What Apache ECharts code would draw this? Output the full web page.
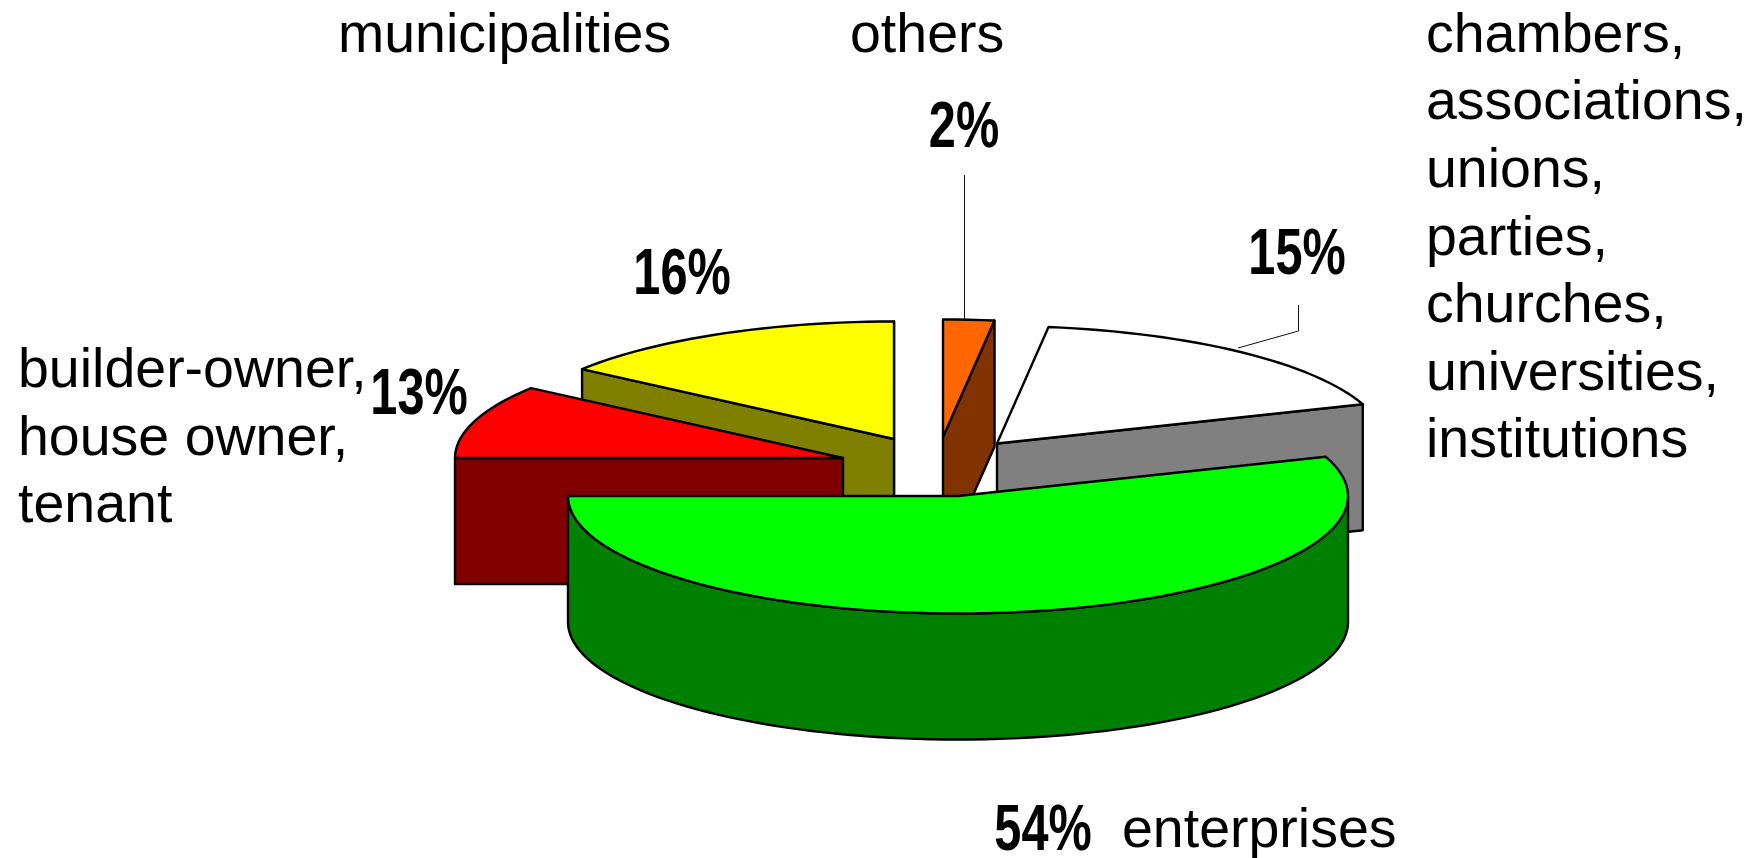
<!DOCTYPE html>
<html><head><meta charset="utf-8">
<style>html,body{margin:0;padding:0;background:#fff}#c{width:1756px;height:858px}</style>
<script src="https://cdn.jsdelivr.net/npm/echarts@6/dist/echarts.min.js"></script>
</head><body><div id="c"></div>
<script>
// Data, in paint order (back slices first, the exploded front slice last)
const categories = ['chambers,\nassociations,\nunions,\nparties,\nchurches,\nuniversities,\ninstitutions', 'others', 'municipalities', 'builder-owner,\nhouse owner,\ntenant', 'enterprises'];
const shares = [15, 2, 16, 13, 54];
const topColors = ['#FFFFFF', '#FF6600', '#FFFF00', '#FF0000', '#00FF00'];
const wallColors = ['#808080', '#803300', '#808000', '#800000', '#008000'];

// Layout (px)
const radiusX = [388, 388, 388, 388, 390];
const RY = 117.5, DEPTH = 126;
const apexX = [997, 943, 894, 843, 958];
const apexY = [443.5, 437, 439, 458, 496];
const nameX = [1426, 850, 338, 18, 1122];
const nameY = [36.5, 36.5, 36.5, 372, 831.5];
const pctX = [1297, 964, 682, 419, 1043];
const pctY = [256.5, 129, 276.5, 396.5, 832.5];
const leaderXY = [[[1298.5, 305], [1298.5, 331], [1238, 348]], [[964.5, 175], [964.5, 319]], null, null, null];
const FONT = '"Liberation Sans", Arial, sans-serif';
const NAME_SIZE = 55.5, LINE = 67.6, PCT_SIZE = 64, PCT_SQUEEZE = 0.76;

// The 3D view foreshortens the drawn sweep of each slice relative to its share.
const rad = d => d * Math.PI / 180;
function viewAngle(theta) {
  const t = rad(theta);
  return theta - 13.77 * Math.sin(t) + 0.85 * (1 - Math.cos(t));
}
const total = shares.reduce((a, b) => a + b, 0);
const startShare = shares[shares.length - 1];

function rim(rx, ax, ay, phi, dy) {
  const p = rad(phi);
  return [ax - rx * Math.cos(p), ay + RY * Math.sin(p) + (dy || 0)];
}
function arc(rx, ax, ay, a, b, dy) {
  const pts = [], n = Math.max(2, Math.ceil(Math.abs(b - a) / 2));
  for (let k = 0; k <= n; k++) pts.push(rim(rx, ax, ay, a + (b - a) * k / n, dy));
  return pts;
}
const STROKE = { stroke: '#000', lineWidth: 2.4, lineJoin: 'round' };

function renderItem(params, api) {
  const i = api.value(0), v = api.value(1);
  let before = startShare;
  for (let k = 0; k < i; k++) before += shares[k];
  let t0 = before / total * 360, t1 = (before + v) / total * 360;
  if (t0 >= 360) { t0 -= 360; t1 -= 360; }
  const a = viewAngle(t0), b = viewAngle(t1), mid = (a + b) / 2;
  const ax = apexX[i], ay = apexY[i], rx = radiusX[i];
  const children = [];
  const wallStyle = Object.assign({ fill: wallColors[i] }, STROKE);
  const M = rim(rx, 0, 0, mid);
  [a, b].forEach(phi => {
    const R = rim(rx, 0, 0, phi);
    if (Math.abs(R[0]) < 1e-6) return;
    const c = R[0] * M[1] - R[1] * M[0];
    if (c * R[0] < 0) {
      const E = rim(rx, ax, ay, phi);
      children.push({ type: 'polygon', silent: true, shape: { points: [[ax, ay], E, [E[0], E[1] + DEPTH], [ax, ay + DEPTH]] }, style: wallStyle });
    }
  });
  const wa = Math.max(a, 0), wb = Math.min(b, 180);
  if (wb > wa) {
    children.push({ type: 'polygon', silent: true, shape: { points: arc(rx, ax, ay, wa, wb, 0).concat(arc(rx, ax, ay, wb, wa, DEPTH)) }, style: wallStyle });
  }
  children.push({ type: 'polygon', silent: true, shape: { points: [[ax, ay]].concat(arc(rx, ax, ay, a, b, 0)) }, style: Object.assign({ fill: topColors[i] }, STROKE) });
  if (leaderXY[i]) {
    children.push({ type: 'polyline', silent: true, shape: { points: leaderXY[i] }, style: { stroke: '#111', lineWidth: 1, fill: 'none' } });
  }
  children.push({ type: 'text', silent: true, x: nameX[i], y: nameY[i] - LINE / 2, style: { text: categories[i], font: NAME_SIZE + 'px ' + FONT, lineHeight: LINE, fill: '#000', align: 'left', verticalAlign: 'top' } });
  children.push({ type: 'text', silent: true, x: pctX[i], y: pctY[i], scaleX: PCT_SQUEEZE, style: { text: v + '%', font: 'bold ' + PCT_SIZE + 'px ' + FONT, fill: '#000', align: 'center', verticalAlign: 'middle' } });
  return { type: 'group', children };
}

const chart = echarts.init(document.getElementById('c'), null, { renderer: 'canvas' });
chart.setOption({
  animation: false,
  backgroundColor: '#fff',
  series: [{ type: 'custom', coordinateSystem: 'none', renderItem, data: shares.map((v, i) => [i, v]) }]
});
</script></body></html>
